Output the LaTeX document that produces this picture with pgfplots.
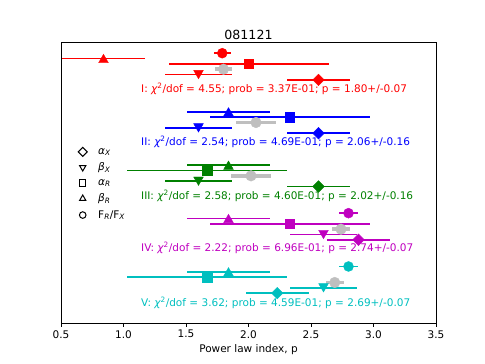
\documentclass[border=0pt]{standalone}
\usepackage{fontspec}
\setmainfont{DejaVu Sans}
\usepackage{pgfplots}
\pgfplotsset{compat=1.18}

\definecolor{mpgreen}{rgb}{0,0.5,0}
\definecolor{mpmag}{rgb}{0.75,0,0.75}
\definecolor{mpcyan}{rgb}{0,0.75,0.75}
\definecolor{mpsilver}{rgb}{0.75,0.75,0.75}
\newcommand{\fnt}{\fontsize{10.5}{12.6}\selectfont}

\pgfplotsset{
  ebar/.style={only marks,
    error bars/x dir=both, error bars/x explicit, error bars/error mark=none,
    error bars/error bar style={line width=1.7pt}},
  pc/.style={ebar, mark=*, mark size=5pt},
  ptu/.style={ebar, mark=triangle*, mark size=5.6pt, mark options={yshift=-1.4pt}},
  ptd/.style={ebar, mark=triangle*, mark size=5.6pt, mark options={yshift=1.4pt, rotate=180}},
  psq/.style={ebar, mark=square*, mark size=4.6pt},
  pdm/.style={ebar, mark=square*, mark size=4.1pt, mark options={rotate=45}},
  pgr/.style={mpsilver, only marks, mark=*, mark size=5.3pt,
    error bars/x dir=both, error bars/x explicit, error bars/error mark=none,
    error bars/error bar style={line width=3.4pt}},
  lgm/.style={only marks, black, line width=1pt,
    legend image code/.code={\draw[##1] plot coordinates {(0pt,0pt)}; \path (-4pt,0pt) (13pt,0pt);}},
}
\tikzset{lbl/.style={anchor=west, inner sep=0pt, font=\fnt}}

\begin{document}
\begin{tikzpicture}
\path[use as bounding box] (0,0) rectangle (485pt,364pt);
\begin{axis}[
  at={(61pt,41pt)}, anchor=south west,
  width=375pt, height=281pt, scale only axis,
  xmin=0.5, xmax=3.5,
  ymin=-2.1, ymax=50.6, y dir=reverse,
  ytick=\empty,
  xtick={0.5,1.0,...,3.5},
  xtick pos=bottom,
  tick align=outside,
  major tick length=3.7pt,
  tick style={black, line width=0.8pt},
  axis line style={line width=0.8pt},
  xticklabel style={font=\fnt, /pgf/number format/.cd, fixed, fixed zerofill, precision=1, assume math mode=true},
  xlabel={Power law index, p},
  xlabel style={font=\fnt, yshift=1pt},
  title={081121},
  title style={font=\fontsize{12.6}{15}\selectfont, yshift=-7pt},
  legend style={at={(axis description cs:0.0,0.495)}, anchor=west, xshift=14pt,
    draw=none, fill=none, font=\fnt, row sep=3.1pt},
  legend cell align=left,
]
% legend entries (open black markers)
\addlegendimage{lgm, mark=square, mark size=3.2pt, mark options={rotate=45}}
\addlegendentry{{\itshape α\textsubscript{X}}}
\addlegendimage{lgm, mark=triangle, mark size=3.6pt, mark options={rotate=180}}
\addlegendentry{{\itshape β\textsubscript{X}}}
\addlegendimage{lgm, mark=square, mark size=3.2pt}
\addlegendentry{{\itshape α\textsubscript{R}}}
\addlegendimage{lgm, mark=triangle, mark size=3.6pt}
\addlegendentry{{\itshape β\textsubscript{R}}}
\addlegendimage{lgm, mark=o, mark size=3.3pt}
\addlegendentry{F\textsubscript{\itshape R}/F\textsubscript{\itshape X}}

% I
\addplot[red, pc]  coordinates {(1.79,0)  +- (0.07,0)};
\addplot[red, ptu] coordinates {(0.84,1)  +- (0.33,0)};
\addplot[red, psq] coordinates {(2.00,2)  +- (0.64,0)};
\addplot[red, ptd] coordinates {(1.60,4)  +- (0.27,0)};
\addplot[red, pdm] coordinates {(2.56,5)  +- (0.25,0)};
\addplot[pgr]      coordinates {(1.80,3)  +- (0.07,0)};
% II
\addplot[blue, ptu] coordinates {(1.84,11) +- (0.33,0)};
\addplot[blue, psq] coordinates {(2.33,12) +- (0.64,0)};
\addplot[blue, ptd] coordinates {(1.60,14) +- (0.27,0)};
\addplot[blue, pdm] coordinates {(2.56,15) +- (0.25,0)};
\addplot[pgr]       coordinates {(2.06,13) +- (0.16,0)};
% III
\addplot[mpgreen, ptu] coordinates {(1.84,21) +- (0.33,0)};
\addplot[mpgreen, psq] coordinates {(1.67,22) +- (0.64,0)};
\addplot[mpgreen, ptd] coordinates {(1.60,24) +- (0.27,0)};
\addplot[mpgreen, pdm] coordinates {(2.56,25) +- (0.25,0)};
\addplot[pgr]          coordinates {(2.02,23) +- (0.16,0)};
% IV
\addplot[mpmag, pc]  coordinates {(2.80,30) +- (0.076,0)};
\addplot[mpmag, ptu] coordinates {(1.84,31) +- (0.33,0)};
\addplot[mpmag, psq] coordinates {(2.33,32) +- (0.64,0)};
\addplot[mpmag, ptd] coordinates {(2.60,34) +- (0.27,0)};
\addplot[mpmag, pdm] coordinates {(2.88,35) +- (0.25,0)};
\addplot[pgr]        coordinates {(2.74,33) +- (0.07,0)};
% V
\addplot[mpcyan, pc]  coordinates {(2.80,40) +- (0.076,0)};
\addplot[mpcyan, ptu] coordinates {(1.84,41) +- (0.33,0)};
\addplot[mpcyan, psq] coordinates {(1.67,42) +- (0.64,0)};
\addplot[mpcyan, ptd] coordinates {(2.60,44) +- (0.27,0)};
\addplot[mpcyan, pdm] coordinates {(2.23,45) +- (0.25,0)};
\addplot[pgr]         coordinates {(2.69,43) +- (0.07,0)};

\node[lbl, text=red]     at (axis cs:1.14,6.7)  {I: {\itshape χ}\textsuperscript{2}/dof = 4.55; prob = 3.37E-01; p = 1.80+/-0.07};
\node[lbl, text=blue]    at (axis cs:1.14,16.7) {II: {\itshape χ}\textsuperscript{2}/dof = 2.54; prob = 4.69E-01; p = 2.06+/-0.16};
\node[lbl, text=mpgreen] at (axis cs:1.14,26.7) {III: {\itshape χ}\textsuperscript{2}/dof = 2.58; prob = 4.60E-01; p = 2.02+/-0.16};
\node[lbl, text=mpmag]   at (axis cs:1.14,36.6) {IV: {\itshape χ}\textsuperscript{2}/dof = 2.22; prob = 6.96E-01; p = 2.74+/-0.07};
\node[lbl, text=mpcyan]  at (axis cs:1.14,46.8) {V: {\itshape χ}\textsuperscript{2}/dof = 3.62; prob = 4.59E-01; p = 2.69+/-0.07};
\end{axis}
\end{tikzpicture}
\end{document}
